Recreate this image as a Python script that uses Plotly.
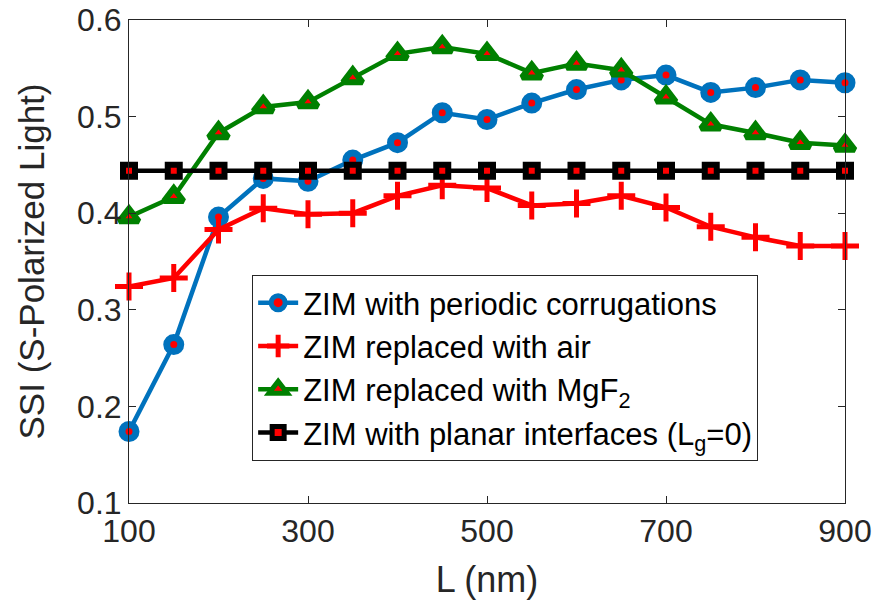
import plotly.graph_objects as go

L = [100, 150, 200, 250, 300, 350, 400, 450, 500, 550, 600, 650, 700, 750, 800, 850, 900]
ssi_periodic = [0.174, 0.264, 0.396, 0.436, 0.433, 0.455, 0.473, 0.504, 0.497, 0.514, 0.528, 0.538, 0.543, 0.525, 0.530, 0.538, 0.535]
ssi_air = [0.324, 0.333, 0.383, 0.405, 0.399, 0.400, 0.418, 0.429, 0.426, 0.408, 0.410, 0.418, 0.406, 0.386, 0.375, 0.366, 0.366]
ssi_mgf2 = [0.396, 0.417, 0.483, 0.510, 0.515, 0.540, 0.565, 0.572, 0.565, 0.545, 0.555, 0.548, 0.520, 0.492, 0.483, 0.473, 0.470]
ssi_planar = [0.444] * 17

names = ["ZIM with periodic corrugations", "ZIM replaced with air",
         "ZIM replaced with MgF<sub>2</sub>", "ZIM with planar interfaces (L<sub>g</sub>=0)"]
x_ticks = [100, 300, 500, 700, 900]
y_ticks = [0.1, 0.2, 0.3, 0.4, 0.5, 0.6]

fig = go.Figure()
fig.add_trace(go.Scatter(x=L, y=ssi_periodic, name=names[0], mode="lines+markers",
                         line=dict(color="#0072BD", width=4.5), cliponaxis=False,
                         marker=dict(symbol="circle", size=14, color="red", line=dict(color="#0072BD", width=7))))
fig.add_trace(go.Scatter(x=L, y=ssi_air, name=names[1], mode="lines+markers",
                         line=dict(color="#FF0000", width=4.5), cliponaxis=False,
                         marker=dict(symbol="cross-thin", size=20, color="red", line=dict(color="#FF0000", width=5))))
fig.add_trace(go.Scatter(x=L, y=ssi_mgf2, name=names[2], mode="lines+markers",
                         line=dict(color="#008000", width=4.5), cliponaxis=False,
                         marker=dict(symbol="triangle-up", size=17, color="red", line=dict(color="#008000", width=6))))
fig.add_trace(go.Scatter(x=L, y=ssi_planar, name=names[3], mode="lines+markers",
                         line=dict(color="black", width=4.5), cliponaxis=False,
                         marker=dict(symbol="square", size=12, color="red", line=dict(color="black", width=6))))

axis_common = dict(showline=True, mirror="ticks", linecolor="#262626", linewidth=1,
                   ticks="inside", ticklen=7, tickcolor="#262626", showgrid=False, zeroline=False,
                   automargin=False,
                   tickfont=dict(size=32, color="#262626", family="Liberation Sans"))
fig.update_xaxes(range=[100, 900], tickvals=x_ticks, ticktext=[str(v) for v in x_ticks],
                 title=dict(text="L (nm)", font=dict(size=36, color="#262626", family="Liberation Sans"), standoff=18),
                 **axis_common)
fig.update_yaxes(range=[0.1, 0.6], tickvals=y_ticks, ticktext=[f"{v:.1f}" for v in y_ticks],
                 title=dict(text="SSI (S-Polarized Light)", font=dict(size=35, color="#262626", family="Liberation Sans"), standoff=21),
                 **axis_common)
fig.update_layout(width=877, height=608, margin=dict(l=129, r=32, t=20, b=105),
                  plot_bgcolor="white", paper_bgcolor="white",
                  font=dict(family="Liberation Sans"),
                  legend=dict(x=0.172, y=0.472, xanchor="left", yanchor="top",
                              bordercolor="#262626", borderwidth=1, bgcolor="white",
                              font=dict(size=31, color="black"), itemwidth=40, tracegroupgap=0))
fig.write_html("out.html")
